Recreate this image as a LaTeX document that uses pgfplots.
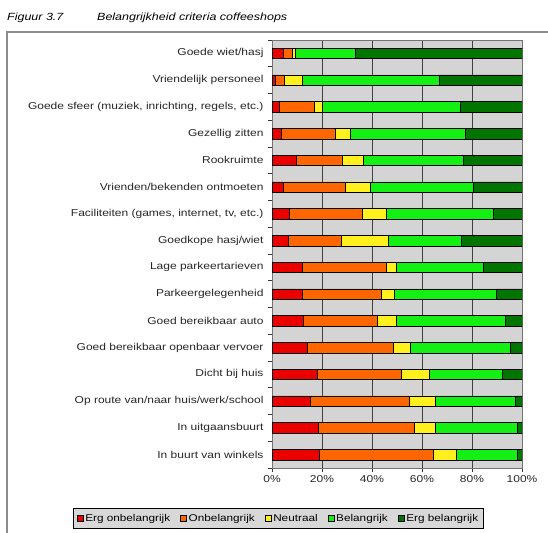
\documentclass[border=0pt]{standalone}
\usepackage{fontspec}
\setmainfont{Liberation Sans}[FakeStretch=1.2]
\usepackage{pgfplots}
\pgfplotsset{compat=1.18}
\definecolor{cRed}{RGB}{235,0,0}
\definecolor{cOrange}{RGB}{255,102,0}
\definecolor{cYellow}{RGB}{255,240,30}
\definecolor{cGreen}{RGB}{20,240,20}
\definecolor{cDark}{RGB}{0,118,0}
\definecolor{plotgray}{RGB}{212,212,212}
\definecolor{leggray}{RGB}{216,216,216}
\begin{document}
\fontsize{10bp}{12bp}\selectfont
\begin{tikzpicture}
\useasboundingbox (0bp,0bp) rectangle (548bp,533bp);
% frame and title
\draw[black!45, line width=1.3bp] (7bp,0bp) -- (7bp,501bp) -- (548bp,501bp);
\node[anchor=west, inner sep=0pt, font=\fontsize{10.4bp}{12bp}\selectfont\itshape] at (7bp,515bp) {Figuur 3.7};
\node[anchor=west, inner sep=0pt, font=\fontsize{10.4bp}{12bp}\selectfont\itshape] at (97bp,515bp) {Belangrijkheid criteria coffeeshops};
\begin{axis}[
  at={(272bp,65bp)}, anchor=south west,
  scale only axis, width=250bp, height=428bp,
  xbar stacked, bar width=10.5bp,
  xmin=0, xmax=100, ymin=0.5, ymax=16.5,
  xtick={0,20,...,100},
  xticklabel={\pgfmathprintnumber[assume math mode=true]{\tick}\%},
  ytick={1,...,16},
  yticklabels={In buurt van winkels, In uitgaansbuurt, Op route van/naar huis/werk/school, Dicht bij huis, Goed bereikbaar openbaar vervoer, Goed bereikbaar auto, Parkeergelegenheid, Lage parkeertarieven, Goedkope hasj/wiet, {Faciliteiten (games, internet, tv, etc.)}, Vrienden/bekenden ontmoeten, Rookruimte, Gezellig zitten, {Goede sfeer (muziek, inrichting, regels, etc.)}, Vriendelijk personeel, Goede wiet/hasj},
  every major y tick/.append style={draw=none},
  minor ytick={0.5,1.5,...,16.5},
  tick align=outside, major tick length=4bp, minor tick length=4bp,
  xtick pos=bottom, ytick pos=left,
  tick style={black!80, line width=0.8bp},
  xmajorgrids, grid style={black!75, line width=1bp},
  axis background/.style={fill=plotgray},
  axis line style={black!55, line width=0.8bp},
  ticklabel style={font=\fontsize{10bp}{12bp}\selectfont, text=black!85},
  yticklabel style={xshift=-1bp},
  legend columns=5,
  legend style={at={(0.026,-0.118)}, anchor=center, fill=leggray, draw=black, line width=0.8bp,
    font=\fontsize{9.8bp}{11bp}\selectfont, inner xsep=3bp, inner ysep=3.5bp,
    /tikz/every even column/.append style={column sep=8bp}},
  legend image code/.code={\draw[#1, draw=black, line width=0.5bp] (0bp,-3bp) rectangle (6bp,3bp);},
]
\addplot[fill=cRed, draw=black, line width=0.5bp] coordinates {(18.9,1) (18.5,2) (15.2,3) (18.1,4) (14.1,5) (12.5,6) (12.0,7) (12.1,8) (6.5,9) (6.8,10) (4.5,11) (9.6,12) (3.6,13) (2.8,14) (1.3,15) (4.3,16)};
\addplot[fill=cOrange, draw=black, line width=0.5bp] coordinates {(45.7,1) (38.3,2) (39.5,3) (33.6,4) (34.2,5) (29.7,6) (31.8,7) (33.4,8) (21.1,9) (29.3,10) (24.9,11) (18.5,12) (21.6,13) (14.0,14) (3.6,15) (3.8,16)};
\addplot[fill=cYellow, draw=black, line width=0.5bp] coordinates {(9.2,1) (8.4,2) (10.5,3) (11.3,4) (6.8,5) (7.6,6) (5.2,7) (4.3,8) (18.9,9) (9.7,10) (10.0,11) (8.4,12) (6.0,13) (3.4,14) (7.0,15) (1.0,16)};
\addplot[fill=cGreen, draw=black, line width=0.5bp] coordinates {(24.3,1) (32.8,2) (32.2,3) (29.1,4) (40.0,5) (43.5,6) (40.5,7) (34.6,8) (29.3,9) (42.6,10) (41.2,11) (40.1,12) (46.2,13) (54.9,14) (54.8,15) (24.1,16)};
\addplot[fill=cDark, draw=black, line width=0.5bp] coordinates {(1.9,1) (2.0,2) (2.6,3) (7.9,4) (4.9,5) (6.7,6) (10.5,7) (15.6,8) (24.2,9) (11.6,10) (19.4,11) (23.4,12) (22.6,13) (24.9,14) (33.3,15) (66.8,16)};
\legend{Erg onbelangrijk, Onbelangrijk, Neutraal, Belangrijk, Erg belangrijk}
\end{axis}
\end{tikzpicture}
\end{document}
